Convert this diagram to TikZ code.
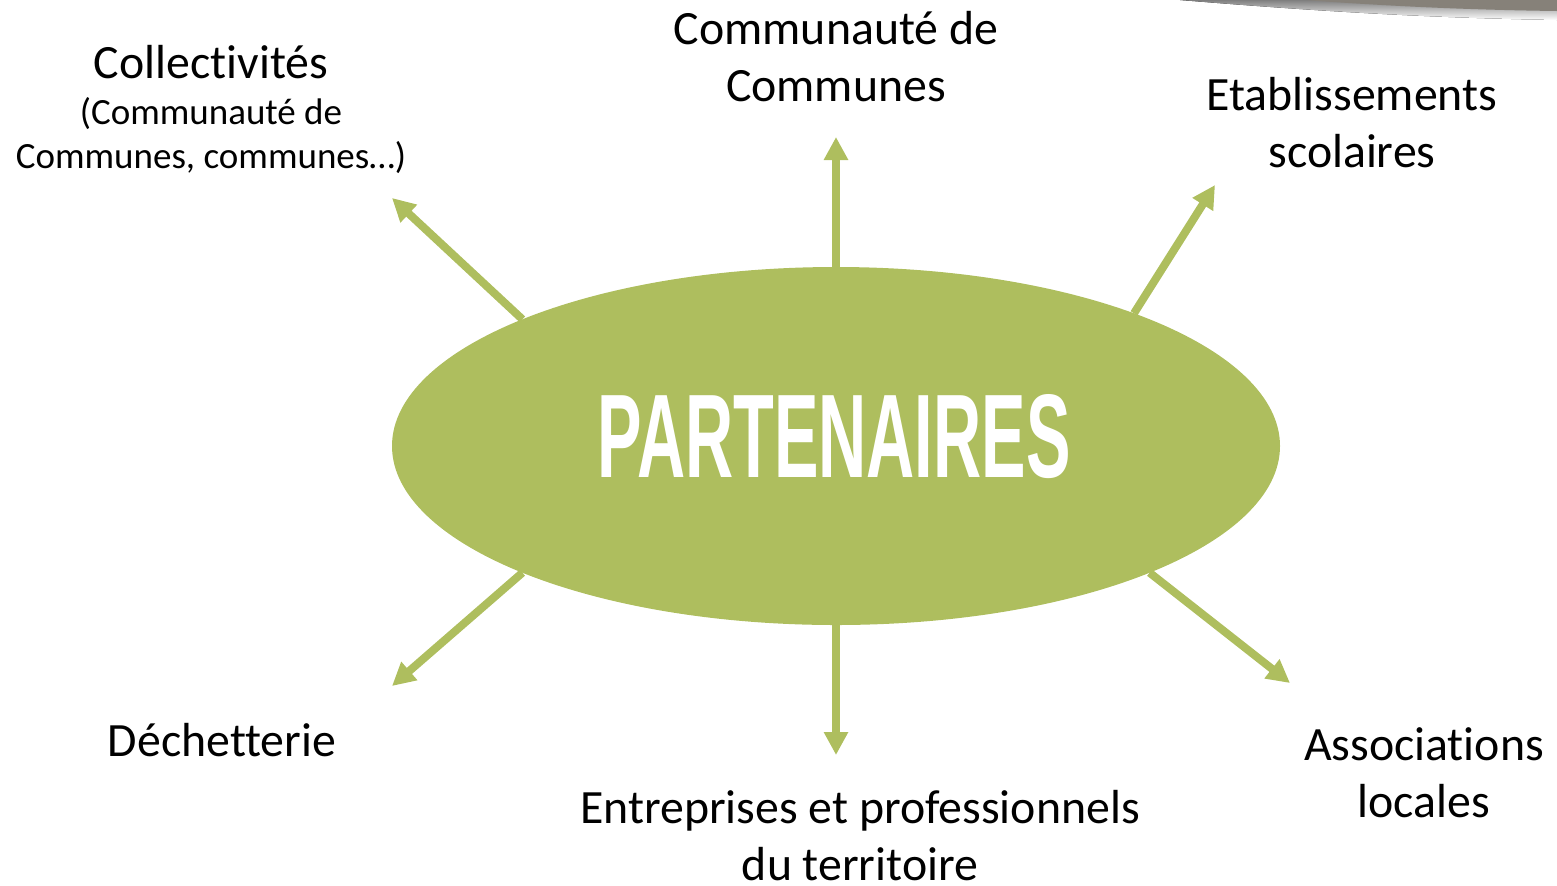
\documentclass[tikz,border=0pt]{standalone}
\usepackage{fontspec}
\setmainfont{Carlito}[Ligatures=NoCommon]
\newfontfamily\titlefont{Liberation Sans}
\usetikzlibrary{shapes.geometric,arrows.meta}
\definecolor{leaf}{RGB}{174,190,94}
\definecolor{slategrey}{RGB}{134,129,121}
\definecolor{shade}{RGB}{236,236,234}
\tikzset{
  arr/.style={draw=leaf, line width=4pt, -{Triangle[length=11.5pt,width=11.5pt]}},
  lbl/.style={anchor=base, align=center, inner sep=0pt, font=\fontsize{23.9}{28.5}\selectfont},
  sublbl/.style={anchor=base, align=center, inner sep=0pt, font=\fontsize{18.5}{22}\selectfont}
}
\begin{document}
\begin{tikzpicture}[x=0.5pt,y=-0.5pt]
\useasboundingbox (0,0) rectangle (1557,885);
% decorative corner
\fill[shade] (1180,0) .. controls (1350,14) and (1450,18) .. (1557,20) -- (1557,0) -- cycle;
\fill[slategrey] (1305,0) .. controls (1400,7) and (1480,10) .. (1557,11) -- (1557,0) -- cycle;
% central ellipse
\node[ellipse, fill=leaf, inner sep=0pt, outer sep=0pt, minimum width=444pt, minimum height=179pt] (P) at (836,446) {};
\node[inner sep=0pt, text=white] (Ptxt) at (834,437) {\resizebox{236.5pt}{41.5pt}{\titlefont\bfseries PARTENAIRES}};
% tips
\coordinate (tN) at (836,137);
\coordinate (tNW) at (392,198);
\coordinate (tNE) at (1215,185);
\coordinate (tSW) at (392,686);
\coordinate (tS) at (836,755);
\coordinate (tSE) at (1290,683);
\draw[arr] (P.north) -- (tN);
\draw[arr] (P.158) -- (tNW);
\draw[arr] (P.24.3) -- (tNE);
\draw[arr] (P.202) -- (tSW);
\draw[arr] (P.south) -- (tS);
\draw[arr] (P.338) -- (tSE);
% labels (base anchor = baseline of last line)
\node[lbl] (coll) at (211,78) {Collectivités};
\node[sublbl] (collsub) at (211,168) {(Communauté de\\Communes, communes…)};
\node[lbl] (cdc) at (836,101) {Communauté de\\Communes};
\node[lbl] (etab) at (1352,167) {Etablissements\\scolaires};
\node[lbl] (dech) at (222,756) {Déchetterie};
\node[lbl] (entr) at (860,880) {Entreprises et professionnels\\du territoire};
\node[lbl] (asso) at (1424,817) {Associations\\locales};
\end{tikzpicture}
\end{document}
